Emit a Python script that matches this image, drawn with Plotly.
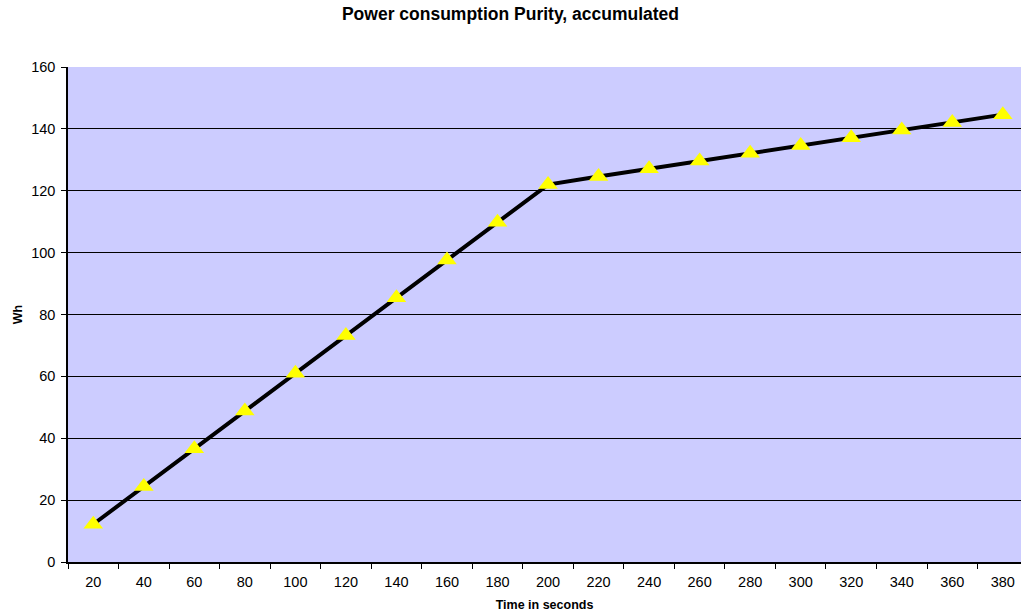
import plotly.graph_objects as go

categories = ["20", "40", "60", "80", "100", "120", "140", "160", "180", "200",
              "220", "240", "260", "280", "300", "320", "340", "360", "380"]
wh_values = [12.2, 24.4, 36.6, 48.8, 61.0, 73.2, 85.4, 97.6, 109.8, 122.0,
             124.6, 127.1, 129.6, 132.1, 134.6, 137.1, 139.6, 142.1, 144.6]
y_ticks = [0, 20, 40, 60, 80, 100, 120, 140, 160]

fig = go.Figure()
fig.add_trace(go.Scatter(
    x=categories, y=wh_values, mode="lines+markers",
    line=dict(color="black", width=4),
    marker=dict(symbol="triangle-up", size=17, color="#FFFF00",
                line=dict(width=0)),
    showlegend=False,
))

fig.update_layout(
    width=1021, height=616,
    margin=dict(l=68, r=0, t=67, b=54),
    paper_bgcolor="white", plot_bgcolor="#CCCCFF",
    font=dict(family="Liberation Sans, Arial, sans-serif", size=14, color="black"),
    title=dict(text="<b>Power consumption Purity, accumulated</b>",
               x=0.5, xanchor="center", y=1 - 14 / 616, yanchor="middle",
               font=dict(size=17.5)),
    xaxis=dict(
        type="category", range=[-0.5, 18.36],
        tickson="boundaries", ticks="outside", ticklen=5, tickcolor="black",
        showline=True, linecolor="black", linewidth=1.5,
        showgrid=False, tickfont=dict(size=14.5), ticklabelstandoff=6,
        title=dict(text="<b>Time in seconds</b>", font=dict(size=12.5), standoff=11),
    ),
    yaxis=dict(
        range=[0, 160], tickvals=y_ticks, ticks="outside", ticklen=5,
        tickcolor="black", showline=True, linecolor="black", linewidth=1.5,
        showgrid=True, gridcolor="black", gridwidth=1, zeroline=False,
        tickfont=dict(size=14.5), ticklabelstandoff=3,
        title=dict(text="<b>Wh</b>", font=dict(size=12.5), standoff=6),
    ),
)

fig.write_html("out.html", config={"displayModeBar": False},
               post_script="document.body.style.margin='0';document.body.style.overflow='hidden';")
